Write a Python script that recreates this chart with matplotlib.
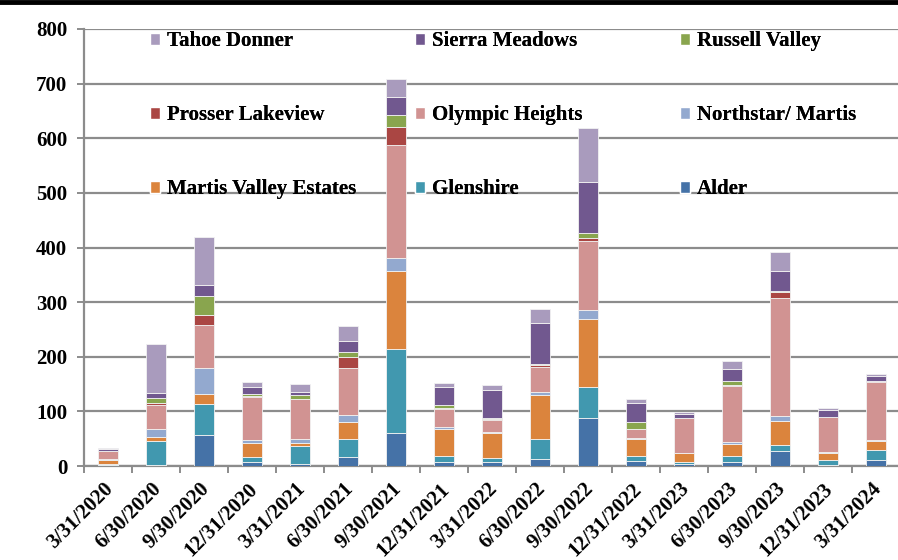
import numpy as np
import matplotlib
matplotlib.use("Agg")
import matplotlib.pyplot as plt
from matplotlib.patches import Patch
from matplotlib.lines import Line2D

plt.rcParams['font.family'] = ['Liberation Serif', 'DejaVu Serif']
plt.rcParams['font.weight'] = 'bold'

dates = ["3/31/2020", "6/30/2020", "9/30/2020", "12/31/2020", "3/31/2021",
         "6/30/2021", "9/30/2021", "12/31/2021", "3/31/2022", "6/30/2022",
         "9/30/2022", "12/31/2022", "3/31/2023", "6/30/2023", "9/30/2023",
         "12/31/2023", "3/31/2024"]

# series values, bottom to top of each stack
alder = [2, 2, 57, 7, 3, 17, 61, 8, 8, 13, 87, 10, 3, 8, 28, 1, 11]
glenshire = [1, 44, 56, 9, 33, 32, 154, 10, 7, 37, 58, 9, 5, 10, 11, 10, 18]
martis_ve = [8, 7, 19, 26, 7, 32, 142, 49, 45, 80, 125, 31, 15, 23, 44, 13, 17]
northstar = [2, 14, 47, 5, 6, 13, 23, 4, 2, 6, 15, 2, 1, 3, 8, 2, 1]
olympic = [15, 44, 80, 79, 73, 86, 208, 33, 22, 46, 126, 15, 63, 103, 217, 63, 107]
prosser = [0, 4, 17, 2, 1, 20, 33, 2, 2, 2, 7, 1, 0, 1, 10, 1, 2]
russell = [0, 10, 36, 3, 7, 9, 22, 6, 2, 3, 8, 12, 0, 8, 3, 0, 0]
sierra = [3, 8, 19, 13, 6, 20, 33, 32, 52, 74, 93, 35, 8, 21, 36, 12, 8]
tahoe = [2, 91, 89, 10, 14, 27, 33, 8, 9, 27, 99, 7, 3, 16, 35, 4, 5]

names = ["Alder", "Glenshire", "Martis Valley Estates", "Northstar/ Martis",
         "Olympic Heights", "Prosser Lakeview", "Russell Valley",
         "Sierra Meadows", "Tahoe Donner"]
series = [alder, glenshire, martis_ve, northstar, olympic, prosser, russell,
          sierra, tahoe]
colors = ["#4572A7", "#4198AF", "#DB843D", "#93A9CF", "#D19392", "#AA4643",
          "#89A54E", "#71588F", "#A99BBD"]

fig = plt.figure(figsize=(8.98, 5.6), dpi=100)
ax = fig.add_axes([84 / 898, 94 / 560, 816 / 898, 437 / 560])

x = np.arange(len(dates))
bottom = np.zeros(len(dates))
for vals, col, nm in zip(series, colors, names):
    ax.bar(x, vals, 0.4, bottom=bottom, color=col, edgecolor='#f2f2f2',
           linewidth=0.6, label=nm, zorder=3)
    bottom += np.array(vals)

ax.set_ylim(0, 800)
ax.set_xlim(-0.5, len(dates) - 0.5)
ax.set_yticks(range(0, 801, 100))
ax.yaxis.grid(True, color='#8c8c8c', linewidth=1.6, zorder=0)
ax.set_axisbelow(True)
for s in ['top', 'right']:
    ax.spines[s].set_visible(False)
for s in ['left', 'bottom']:
    ax.spines[s].set_color('#8c8c8c')
    ax.spines[s].set_linewidth(1.6)

ax.set_xticks(np.arange(len(dates) + 1) - 0.5)
ax.set_xticklabels([])
ax.tick_params(axis='x', length=5, width=1.4, color='#8c8c8c')
ax.tick_params(axis='y', length=5, width=1.4, color='#8c8c8c', labelsize=15, pad=7)
for t in ax.get_yticklabels():
    t.set_fontweight('bold')

for i, d in enumerate(dates):
    ax.text(i - 0.1, -0.03, d, rotation=45, rotation_mode='anchor', ha='right',
            va='top', fontsize=15, fontweight='bold',
            transform=ax.get_xaxis_transform())

# legend, three columns laid out row by row
order = [[8, 5, 2], [7, 4, 1], [6, 3, 0]]
col_x = [150 / 898, 415 / 898, 680 / 898]
for cx, idxs in zip(col_x, order):
    handles = [Patch(facecolor=colors[k], edgecolor='white') for k in idxs]
    leg = fig.legend(handles, [names[k] for k in idxs], loc='upper left',
                     bbox_to_anchor=(cx, 1 - 31 / 560), frameon=False,
                     prop={'size': 15, 'weight': 'bold'}, handlelength=0.5,
                     handleheight=0.5, handletextpad=0.3, labelspacing=2.6,
                     borderpad=0, borderaxespad=0)
    fig.add_artist(leg)

fig.add_artist(Line2D([0, 1], [0.996, 0.996], transform=fig.transFigure,
                      color='black', linewidth=3.5))

fig.savefig("out.png", dpi=100)
